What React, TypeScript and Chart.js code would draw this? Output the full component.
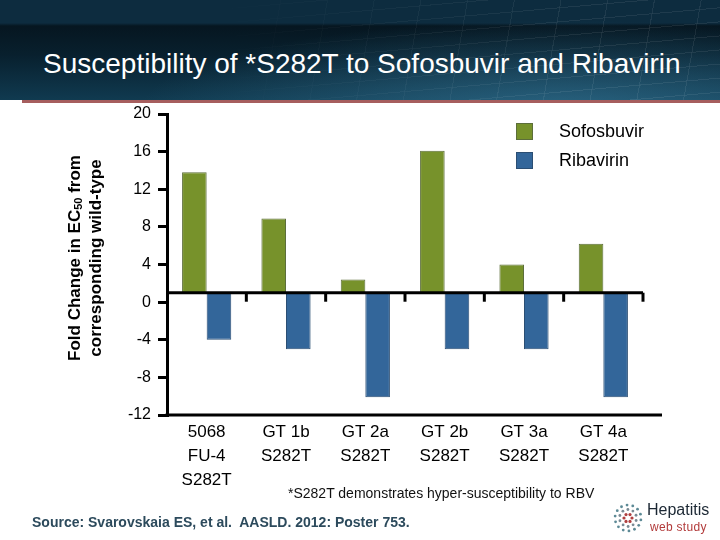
import React, { useEffect, useRef } from "react";
import { Chart, registerables } from "chart.js";

Chart.register(...registerables);

const CATEGORIES: string[][] = [
  ["5068", "FU-4", "S282T"],
  ["GT 1b", "S282T"],
  ["GT 2a", "S282T"],
  ["GT 2b", "S282T"],
  ["GT 3a", "S282T"],
  ["GT 4a", "S282T"],
];
const SOFOSBUVIR: number[] = [13.8, 8.9, 2.4, 16.1, 4.0, 6.2];
const RIBAVIRIN: number[] = [-4.0, -5.0, -10.1, -5.0, -5.0, -10.1];
const SERIES_NAMES: string[] = ["Sofosbuvir", "Ribavirin"];
const BASELINE = 1;
const Y_MIN = -12;
const Y_MAX = 20;
const Y_STEP = 4;

const GREEN = "#77922b";
const GREEN_BORDER = "#5c6e3a";
const BLUE = "#33669a";
const BLUE_BORDER = "#2b4e73";
const FONT = "'Liberation Sans', Arial, sans-serif";

const overlayPlugin = {
  id: "overlay",
  afterDatasetsDraw(chart: any) {
    const { ctx, chartArea, scales } = chart;
    const y = scales.y;
    const x = scales.x;
    const base = y.getPixelForValue(BASELINE);
    ctx.save();
    ctx.strokeStyle = "#000";
    ctx.lineWidth = 3;
    ctx.beginPath();
    ctx.moveTo(chartArea.left, base);
    ctx.lineTo(chartArea.right, base);
    ctx.stroke();
    for (let i = 1; i <= CATEGORIES.length; i++) {
      const px = x.getPixelForValue(i - 0.5);
      ctx.beginPath();
      ctx.moveTo(px, base);
      ctx.lineTo(px, base + 9);
      ctx.stroke();
    }
    ctx.beginPath();
    ctx.moveTo(chartArea.left - 1.5, chartArea.bottom);
    ctx.lineTo(chartArea.right + 19, chartArea.bottom);
    ctx.stroke();

    // Legend
    const colors = [GREEN, BLUE];
    const borders = [GREEN_BORDER, BLUE_BORDER];
    const legendTops = [123, 152];
    ctx.font = `18px ${FONT}`;
    ctx.textBaseline = "middle";
    ctx.textAlign = "left";
    SERIES_NAMES.forEach((name, i) => {
      ctx.fillStyle = colors[i];
      ctx.fillRect(516, legendTops[i], 17, 17);
      ctx.strokeStyle = borders[i];
      ctx.lineWidth = 1;
      ctx.strokeRect(516.5, legendTops[i] + 0.5, 16, 16);
      ctx.fillStyle = "#000";
      ctx.fillText(name, 559, legendTops[i] + 9);
    });

    // Y title (rotated, with subscript)
    const cy = 258;
    ctx.fillStyle = "#000";
    ctx.textBaseline = "middle";
    ctx.save();
    ctx.translate(75, cy);
    ctx.rotate(-Math.PI / 2);
    const bold = `bold 17px ${FONT}`;
    const sub = `bold 11px ${FONT}`;
    const p1 = "Fold Change in EC";
    const p2 = "50";
    const p3 = " from";
    ctx.font = bold;
    const w1 = ctx.measureText(p1).width;
    const w3 = ctx.measureText(p3).width;
    ctx.font = sub;
    const w2 = ctx.measureText(p2).width;
    let sx = -(w1 + w2 + w3) / 2;
    ctx.textAlign = "left";
    ctx.font = bold;
    ctx.fillText(p1, sx, 0);
    sx += w1;
    ctx.font = sub;
    ctx.fillText(p2, sx, 4);
    sx += w2;
    ctx.font = bold;
    ctx.fillText(p3, sx, 0);
    ctx.restore();
    ctx.save();
    ctx.translate(96, cy);
    ctx.rotate(-Math.PI / 2);
    ctx.font = bold;
    ctx.textAlign = "center";
    ctx.fillText("corresponding wild-type", 0, 0);
    ctx.restore();
    ctx.restore();
  },
};

function LogoIcon() {
  const dots: React.ReactElement[] = [];
  const rings = [
    { r: 4, n: 6, c: "#b04040" },
    { r: 8.5, n: 10, c: "#7a8a94" },
    { r: 13, n: 14, c: "#5d8a96" },
  ];
  rings.forEach((ring, ri) => {
    for (let k = 0; k < ring.n; k++) {
      const a = (k / ring.n) * Math.PI * 2 + ri * 0.3;
      dots.push(
        <circle
          key={`${ri}-${k}`}
          cx={16 + ring.r * Math.cos(a)}
          cy={16 + ring.r * Math.sin(a)}
          r={ri === 0 ? 1.6 : 1.4}
          fill={ring.c}
        />
      );
    }
  });
  return (
    <svg width={32} height={32} style={{ position: "absolute", left: 612, top: 502 }}>
      {dots}
    </svg>
  );
}

export default function App() {
  const canvasRef = useRef<HTMLCanvasElement | null>(null);

  useEffect(() => {
    const canvas = canvasRef.current;
    if (!canvas) return;
    const chart = new Chart(canvas, {
      type: "bar",
      data: {
        labels: CATEGORIES,
        datasets: [
          {
            label: SERIES_NAMES[0],
            data: SOFOSBUVIR,
            base: BASELINE,
            backgroundColor: GREEN,
            borderColor: GREEN_BORDER,
            borderWidth: 1,
          } as any,
          {
            label: SERIES_NAMES[1],
            data: RIBAVIRIN,
            base: BASELINE,
            backgroundColor: BLUE,
            borderColor: BLUE_BORDER,
            borderWidth: 1,
          } as any,
        ],
      },
      options: {
        animation: false,
        responsive: false,
        devicePixelRatio: 1,
        maintainAspectRatio: false,
        layout: { padding: { left: 0, top: 114, right: 77, bottom: 45 } },
        datasets: {
          bar: { categoryPercentage: 0.62, barPercentage: 1 },
        },
        plugins: {
          legend: { display: false },
          tooltip: { enabled: false },
          title: { display: false },
        },
        scales: {
          x: {
            offset: true,
            grid: { display: false, drawTicks: false },
            border: { display: false },
            ticks: {
              color: "#000",
              font: { family: FONT, size: 17, lineHeight: 1.41 },
              padding: 5,
              maxRotation: 0,
              autoSkip: false,
            },
            afterFit(scale: any) {
              scale.height = 80;
            },
          },
          y: {
            min: Y_MIN,
            max: Y_MAX,
            grid: {
              drawOnChartArea: false,
              drawTicks: true,
              tickLength: 9,
              color: "#000",
              lineWidth: 3,
            },
            border: { display: true, color: "#000", width: 3 },
            ticks: {
              stepSize: Y_STEP,
              color: "#000",
              font: { family: FONT, size: 16 },
              padding: 7,
            },
            afterFit(scale: any) {
              scale.width = 167;
            },
          },
        },
      },
      plugins: [overlayPlugin],
    });
    return () => chart.destroy();
  }, []);

  return (
    <div
      style={{
        position: "absolute",
        left: 0,
        top: 0,
        width: 720,
        height: 540,
        background: "#fff",
        overflow: "hidden",
        fontFamily: FONT,
      }}
    >
      <canvas
        ref={canvasRef}
        width={720}
        height={540}
        style={{ position: "absolute", left: 0, top: 0, width: 720, height: 540 }}
      />
      <div
        style={{
          position: "absolute",
          left: 0,
          top: 0,
          width: 720,
          height: 100,
          background:
            "radial-gradient(ellipse 420px 90px at 560px 110px, rgba(60,130,165,0.55), rgba(60,130,165,0) 100%), linear-gradient(180deg, #0d2c3f 0px, #0d2c3f 23px, #061620 26px, #08202e 55px, #103a50 100px)",
        }}
      />
      <div
        style={{
          position: "absolute",
          left: 0,
          top: 0,
          width: 720,
          height: 100,
          opacity: 0.12,
          backgroundImage:
            "repeating-linear-gradient(100deg, rgba(255,255,255,0.6) 0px, rgba(255,255,255,0.6) 1px, transparent 1px, transparent 46px), repeating-linear-gradient(175deg, rgba(255,255,255,0.6) 0px, rgba(255,255,255,0.6) 1px, transparent 1px, transparent 14px)",
          WebkitMaskImage: "linear-gradient(90deg, transparent 30%, #000 80%)",
        }}
      />
      <div
        style={{
          position: "absolute",
          left: 22,
          top: 100,
          width: 698,
          height: 3,
          background: "#a65e5e",
        }}
      />
      <div
        style={{
          position: "absolute",
          left: 43,
          top: 47,
          color: "#fff",
          fontSize: 28,
          whiteSpace: "nowrap",
          lineHeight: "34px",
        }}
      >
        Susceptibility of *S282T to Sofosbuvir and Ribavirin
      </div>
      <div
        style={{
          position: "absolute",
          left: 288,
          top: 484,
          color: "#111",
          fontSize: 14,
          whiteSpace: "nowrap",
          lineHeight: "18px",
        }}
      >
        *S282T demonstrates hyper-susceptibility to RBV
      </div>
      <div
        style={{
          position: "absolute",
          left: 32,
          top: 513,
          color: "#2c4a5c",
          fontSize: 14,
          fontWeight: "bold",
          whiteSpace: "pre",
          lineHeight: "18px",
        }}
      >
        Source: Svarovskaia ES, et al.  AASLD. 2012: Poster 753.
      </div>
      <LogoIcon />
      <div
        style={{
          position: "absolute",
          left: 647,
          top: 500,
          color: "#1b2733",
          fontSize: 16,
          whiteSpace: "nowrap",
          lineHeight: "20px",
        }}
      >
        Hepatitis
      </div>
      <div
        style={{
          position: "absolute",
          left: 650,
          top: 519,
          color: "#b23a3a",
          fontSize: 12,
          whiteSpace: "nowrap",
          lineHeight: "16px",
          letterSpacing: 0.3,
        }}
      >
        web study
      </div>
    </div>
  );
}
